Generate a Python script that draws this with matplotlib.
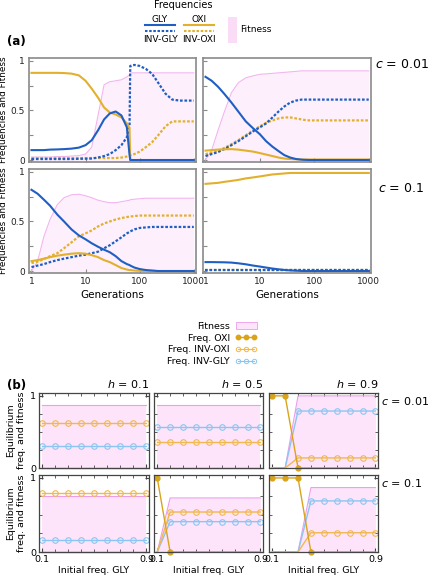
import matplotlib
matplotlib.use("Agg")
import matplotlib.pyplot as plt
from matplotlib.lines import Line2D
from matplotlib.patches import Patch, Rectangle
from matplotlib.ticker import FixedLocator, NullLocator

plt.rcParams['font.family'] = 'DejaVu Sans'
plt.rcParams['mathtext.fontset'] = 'dejavusans'

# ---------------- (a) trajectories over generations ----------------
gens = [1, 1.3, 1.7, 2.2, 3, 4, 5.5, 7.5, 10, 13, 17, 22, 28, 36, 46, 58, 65, 67,
        80, 100, 130, 170, 220, 300, 400, 550, 750, 1000]

# c = 0.01, left
tl_gly = [0.10, 0.10, 0.10, 0.105, 0.107, 0.11, 0.115, 0.125, 0.15, 0.20, 0.30, 0.41, 0.47, 0.49,
          0.45, 0.33, 0.05, 0.0, 0.0, 0.0, 0.0, 0.0, 0.0, 0.0, 0.0, 0.0, 0.0, 0.0]
tl_oxi = [0.88, 0.88, 0.88, 0.88, 0.88, 0.878, 0.872, 0.855, 0.80, 0.72, 0.63, 0.53, 0.48, 0.46,
          0.43, 0.37, 0.32, 0.0, 0.0, 0.0, 0.0, 0.0, 0.0, 0.0, 0.0, 0.0, 0.0, 0.0]
tl_inv_gly = [0.01, 0.01, 0.01, 0.01, 0.01, 0.01, 0.01, 0.012, 0.013, 0.015, 0.025, 0.04, 0.06, 0.10,
              0.15, 0.23, 0.35, 0.95, 0.96, 0.95, 0.92, 0.87, 0.78, 0.67, 0.61, 0.60, 0.60, 0.60]
tl_inv_oxi = [0.02, 0.02, 0.02, 0.02, 0.02, 0.02, 0.02, 0.02, 0.02, 0.02, 0.02, 0.02, 0.02, 0.02,
              0.025, 0.035, 0.04, 0.045, 0.06, 0.085, 0.13, 0.18, 0.25, 0.34, 0.39, 0.39, 0.39, 0.39]
tl_fit = [0.03, 0.03, 0.03, 0.03, 0.035, 0.035, 0.04, 0.045, 0.06, 0.13, 0.45, 0.76, 0.79, 0.80,
          0.81, 0.84, 0.86, 0.88, 0.88, 0.88, 0.88, 0.88, 0.88, 0.88, 0.88, 0.88, 0.88, 0.88]

# c = 0.01, right
tr_gly = [0.84, 0.80, 0.74, 0.67, 0.58, 0.49, 0.39, 0.32, 0.26, 0.19, 0.135, 0.09, 0.05, 0.025,
          0.01, 0.004, 0.002, 0.002, 0.0, 0.0, 0.0, 0.0, 0.0, 0.0, 0.0, 0.0, 0.0, 0.0]
tr_oxi = [0.095, 0.10, 0.105, 0.108, 0.11, 0.105, 0.095, 0.085, 0.07, 0.055, 0.04, 0.025, 0.015, 0.01,
          0.007, 0.005, 0.005, 0.005, 0.005, 0.005, 0.005, 0.005, 0.005, 0.005, 0.005, 0.005, 0.005, 0.005]
tr_inv_gly = [0.04, 0.06, 0.08, 0.11, 0.15, 0.19, 0.24, 0.29, 0.33, 0.37, 0.43, 0.49, 0.54, 0.58,
              0.60, 0.61, 0.61, 0.61, 0.61, 0.61, 0.61, 0.61, 0.61, 0.61, 0.61, 0.61, 0.61, 0.61]
tr_inv_oxi = [0.06, 0.075, 0.095, 0.12, 0.16, 0.20, 0.25, 0.30, 0.34, 0.375, 0.40, 0.42, 0.43, 0.43,
              0.42, 0.41, 0.405, 0.405, 0.40, 0.40, 0.40, 0.40, 0.40, 0.40, 0.40, 0.40, 0.40, 0.40]
tr_fit = [0.0, 0.1, 0.3, 0.48, 0.68, 0.78, 0.83, 0.85, 0.865, 0.87, 0.875, 0.88, 0.885, 0.89,
          0.895, 0.90, 0.90, 0.90, 0.90, 0.90, 0.90, 0.90, 0.90, 0.90, 0.90, 0.90, 0.90, 0.90]

# c = 0.1, left
bl_gly = [0.82, 0.78, 0.72, 0.66, 0.57, 0.50, 0.42, 0.36, 0.32, 0.28, 0.245, 0.215, 0.19, 0.15,
          0.10, 0.07, 0.06, 0.055, 0.035, 0.02, 0.01, 0.005, 0.0, 0.0, 0.0, 0.0, 0.0, 0.0]
bl_oxi = [0.10, 0.11, 0.125, 0.14, 0.155, 0.165, 0.175, 0.18, 0.175, 0.16, 0.14, 0.11, 0.09, 0.06,
          0.03, 0.015, 0.01, 0.01, 0.005, 0.002, 0.0, 0.0, 0.0, 0.0, 0.0, 0.0, 0.0, 0.0]
bl_inv_gly = [0.04, 0.055, 0.07, 0.09, 0.11, 0.125, 0.14, 0.155, 0.165, 0.18, 0.195, 0.23, 0.26, 0.30,
              0.34, 0.38, 0.395, 0.40, 0.42, 0.435, 0.44, 0.445, 0.445, 0.445, 0.445, 0.445, 0.445, 0.445]
bl_inv_oxi = [0.08, 0.095, 0.12, 0.15, 0.18, 0.23, 0.29, 0.35, 0.38, 0.41, 0.45, 0.48, 0.50, 0.52,
              0.535, 0.545, 0.55, 0.55, 0.555, 0.56, 0.56, 0.56, 0.56, 0.56, 0.56, 0.56, 0.56, 0.56]
bl_fit = [0.0, 0.1, 0.35, 0.52, 0.67, 0.74, 0.77, 0.775, 0.76, 0.74, 0.715, 0.70, 0.69, 0.69,
          0.70, 0.71, 0.715, 0.72, 0.725, 0.73, 0.735, 0.735, 0.735, 0.735, 0.735, 0.735, 0.735, 0.735]

# c = 0.1, right (no fitness shading visible)
br_gly = [0.09, 0.09, 0.089, 0.088, 0.085, 0.078, 0.068, 0.055, 0.045, 0.035, 0.025, 0.017, 0.011, 0.006,
          0.003, 0.001, 0.0, 0.0, 0.0, 0.0, 0.0, 0.0, 0.0, 0.0, 0.0, 0.0, 0.0, 0.0]
br_oxi = [0.88, 0.885, 0.89, 0.90, 0.91, 0.92, 0.935, 0.945, 0.955, 0.965, 0.975, 0.98, 0.985, 0.99,
          0.99, 0.99, 0.99, 0.99, 0.99, 0.99, 0.99, 0.99, 0.99, 0.99, 0.99, 0.99, 0.99, 0.99]
br_inv_gly = [0.008, 0.008, 0.008, 0.008, 0.008, 0.008, 0.008, 0.008, 0.008, 0.008, 0.008, 0.008, 0.008, 0.008,
              0.008, 0.008, 0.008, 0.008, 0.008, 0.008, 0.008, 0.008, 0.008, 0.008, 0.008, 0.008, 0.008, 0.008]
br_inv_oxi = [0.012, 0.012, 0.012, 0.012, 0.012, 0.012, 0.012, 0.012, 0.012, 0.012, 0.012, 0.012, 0.012, 0.012,
              0.012, 0.012, 0.012, 0.012, 0.012, 0.012, 0.012, 0.012, 0.012, 0.012, 0.012, 0.012, 0.012, 0.012]

gen_ticks = [1, 10, 100, 1000]
gen_ticklabels = ['1', '10', '100', '1000']

# ---------------- (b) equilibria vs initial GLY frequency ----------------
init_freq = [0.1, 0.2, 0.3, 0.4, 0.5, 0.6, 0.7, 0.8, 0.9]
h_labels = ['0.1', '0.5', '0.9']
c_labels = ['0.01', '0.1']

# c = 0.01
eq_fit_c1_h1 = [0.87, 0.87, 0.87, 0.87, 0.87, 0.87, 0.87, 0.87, 0.87]
eq_oxi_c1_h1 = [0, 0, 0, 0, 0, 0, 0, 0, 0]
eq_ioxi_c1_h1 = [0.63, 0.63, 0.63, 0.63, 0.63, 0.63, 0.63, 0.63, 0.63]
eq_igly_c1_h1 = [0.31, 0.31, 0.31, 0.31, 0.31, 0.31, 0.31, 0.31, 0.31]

eq_fit_c1_h5 = [0.87, 0.87, 0.87, 0.87, 0.87, 0.87, 0.87, 0.87, 0.87]
eq_oxi_c1_h5 = [0, 0, 0, 0, 0, 0, 0, 0, 0]
eq_ioxi_c1_h5 = [0.36, 0.36, 0.36, 0.36, 0.36, 0.36, 0.36, 0.36, 0.36]
eq_igly_c1_h5 = [0.57, 0.57, 0.57, 0.57, 0.57, 0.57, 0.57, 0.57, 0.57]

eq_fit_c1_h9 = [0, 0, 1.0, 1.0, 1.0, 1.0, 1.0, 1.0, 1.0]
eq_oxi_c1_h9 = [1, 1, 0, 0, 0, 0, 0, 0, 0]
eq_ioxi_c1_h9 = [0, 0, 0.14, 0.14, 0.14, 0.14, 0.14, 0.14, 0.14]
eq_igly_c1_h9 = [0, 0, 0.79, 0.79, 0.79, 0.79, 0.79, 0.79, 0.79]

# c = 0.1
eq_fit_c2_h1 = [0.76, 0.76, 0.76, 0.76, 0.76, 0.76, 0.76, 0.76, 0.76]
eq_oxi_c2_h1 = [0, 0, 0, 0, 0, 0, 0, 0, 0]
eq_ioxi_c2_h1 = [0.80, 0.80, 0.80, 0.80, 0.80, 0.80, 0.80, 0.80, 0.80]
eq_igly_c2_h1 = [0.16, 0.16, 0.16, 0.16, 0.16, 0.16, 0.16, 0.16, 0.16]

eq_fit_c2_h5 = [0, 0.73, 0.73, 0.73, 0.73, 0.73, 0.73, 0.73, 0.73]
eq_oxi_c2_h5 = [1, 0, 0, 0, 0, 0, 0, 0, 0]
eq_ioxi_c2_h5 = [0, 0.54, 0.54, 0.54, 0.54, 0.54, 0.54, 0.54, 0.54]
eq_igly_c2_h5 = [0, 0.41, 0.41, 0.41, 0.41, 0.41, 0.41, 0.41, 0.41]

eq_fit_c2_h9 = [0, 0, 0, 0.87, 0.87, 0.87, 0.87, 0.87, 0.87]
eq_oxi_c2_h9 = [1, 1, 1, 0, 0, 0, 0, 0, 0]
eq_ioxi_c2_h9 = [0, 0, 0, 0.26, 0.26, 0.26, 0.26, 0.26, 0.26]
eq_igly_c2_h9 = [0, 0, 0, 0.69, 0.69, 0.69, 0.69, 0.69, 0.69]

# colours
GLY_C = '#1f5fc4'
OXI_C = '#e2b02c'
FIT_LINE = '#f3b5ef'
FIT_FILL = '#fdf0fc'
B_FIT_LINE = '#ee9cec'
B_FIT_FILL = '#fde4fa'
B_OXI = '#d9a41c'
B_IOXI = '#f0b850'
B_IGLY = '#8cc6f0'
FRAME_A = '#8a8a8a'

W, H = 429, 575
fig = plt.figure(figsize=(W / 100, H / 100), dpi=100)


def box(x0, y0, x1, y1):
    # pixel box (top-left origin) -> figure rect
    return [x0 / W, 1 - y1 / H, (x1 - x0) / W, (y1 - y0) / H]


def draw_traj(ax, gly, oxi, inv_gly, inv_oxi, fit=None):
    if fit is not None:
        ax.fill_between(gens, fit, -0.1, color=FIT_FILL, lw=0)
        ax.plot(gens, fit, color=FIT_LINE, lw=0.8)
    dots = (0, (1.2, 0.8))
    ax.plot(gens, inv_oxi, color=OXI_C, lw=1.6, ls=dots)
    ax.plot(gens, inv_gly, color=GLY_C, lw=1.6, ls=dots)
    ax.plot(gens, oxi, color=OXI_C, lw=1.5)
    ax.plot(gens, gly, color=GLY_C, lw=1.5)
    ax.set_xscale('log')
    ax.set_xlim(0.9, 1100)
    ax.set_ylim(-0.02, 1.03)
    ax.xaxis.set_major_locator(FixedLocator(gen_ticks))
    ax.xaxis.set_minor_locator(NullLocator())
    ax.set_yticks([0, 0.25, 0.5, 0.75, 1])
    for s in ax.spines.values():
        s.set_color(FRAME_A)
        s.set_linewidth(1.2)
    ax.tick_params(direction='in', length=3, color=FRAME_A, labelsize=6.5,
                   labelcolor='#222222', pad=3)


a_rects = [box(29, 58, 196, 162), box(203, 58, 371, 162),
           box(29, 169, 196, 273), box(203, 169, 371, 273)]
a_data = [(tl_gly, tl_oxi, tl_inv_gly, tl_inv_oxi, tl_fit),
          (tr_gly, tr_oxi, tr_inv_gly, tr_inv_oxi, tr_fit),
          (bl_gly, bl_oxi, bl_inv_gly, bl_inv_oxi, bl_fit),
          (br_gly, br_oxi, br_inv_gly, br_inv_oxi, None)]
a_axes = []
for i, (rect, d) in enumerate(zip(a_rects, a_data)):
    ax = fig.add_axes(rect)
    draw_traj(ax, *d)
    if i % 2 == 0:
        ax.set_yticklabels(['0', '', '0.5', '', '1'])
        ax.set_ylabel('Frequencies and Fitness', fontsize=6.4, labelpad=2)
    else:
        ax.set_yticklabels([])
    if i < 2:
        ax.set_xticklabels([])
    else:
        ax.set_xticklabels(gen_ticklabels)
        ax.set_xlabel('Generations', fontsize=7.5, labelpad=3)
    a_axes.append(ax)

fig.text(375 / W, 1 - 64 / H, r'$c$ = 0.01', fontsize=9, va='center', ha='left')
fig.text(378 / W, 1 - 189 / H, r'$c$ = 0.1', fontsize=9, va='center', ha='left')
fig.text(7 / W, 1 - 41 / H, '(a)', fontsize=8.5, fontweight='bold', va='center')

# legend for (a), built by hand
fig.text(183 / W, 1 - 5 / H, 'Frequencies', fontsize=7, ha='center', va='center')
for xc, col, top, bottom in [(160, GLY_C, 'GLY', 'INV-GLY'), (199, OXI_C, 'OXI', 'INV-OXI')]:
    fig.add_artist(Line2D([(xc - 15) / W, (xc + 15) / W], [1 - 25 / H, 1 - 25 / H],
                          color=col, lw=1.5))
    fig.add_artist(Line2D([(xc - 15) / W, (xc + 15) / W], [1 - 31 / H, 1 - 31 / H],
                          color=col, lw=1.5, ls=(0, (1.2, 0.8))))
    fig.text(xc / W, 1 - 19 / H, top, fontsize=6.5, ha='center', va='center')
    fig.text(xc / W, 1 - 39 / H, bottom, fontsize=6.5, ha='center', va='center')
fig.add_artist(Rectangle((228 / W, 1 - 43 / H), 9 / W, 26 / H, facecolor='#fbdcf7',
                         edgecolor='none', transform=fig.transFigure))
fig.text(240 / W, 1 - 29 / H, 'Fitness', fontsize=6.5, ha='left', va='center')


# ---------------- (b) ----------------
def nonzero(vals):
    return [i for i, v in enumerate(vals) if v > 0]


def with_drop(vals):
    return [i for i, v in enumerate(vals) if v > 0 or (i > 0 and vals[i - 1] > 0)]


def draw_eq(ax, fit, oxi, ioxi, igly):
    ax.fill_between(init_freq, fit, color=B_FIT_FILL, lw=0)
    ax.plot(init_freq, fit, color=B_FIT_LINE, lw=0.8)
    ax.plot(init_freq, igly, color=B_IGLY, lw=1.0, marker='o', ms=4, mfc='none',
            mew=0.8, markevery=nonzero(igly), clip_on=False)
    ax.plot(init_freq, ioxi, color=B_IOXI, lw=1.0, marker='o', ms=4, mfc='none',
            mew=0.8, markevery=nonzero(ioxi), clip_on=False)
    ax.plot(init_freq, oxi, color=B_OXI, lw=1.0, marker='o', ms=3.5,
            markevery=with_drop(oxi), clip_on=False)
    ax.set_xlim(0.075, 0.92)
    ax.set_ylim(0, 1.04)
    ax.set_xticks([0.1, 0.9])
    ax.set_xticks([0.2, 0.3, 0.4, 0.5, 0.6, 0.7, 0.8], minor=True)
    ax.set_yticks([0, 1])
    ax.set_yticks([0.25, 0.5, 0.75], minor=True)
    for s in ax.spines.values():
        s.set_color('#444444')
        s.set_linewidth(0.9)
        s.set_zorder(3)
    ax.tick_params(which='both', direction='in', top=True, right=True,
                   color='#444444', labelsize=6.8, pad=2)
    ax.tick_params(which='major', length=3)
    ax.tick_params(which='minor', length=2)


b_cols = [(39, 149), (154, 263), (269, 378)]
b_rows = [(393, 468), (475, 552)]
b_data = [[(eq_fit_c1_h1, eq_oxi_c1_h1, eq_ioxi_c1_h1, eq_igly_c1_h1),
           (eq_fit_c1_h5, eq_oxi_c1_h5, eq_ioxi_c1_h5, eq_igly_c1_h5),
           (eq_fit_c1_h9, eq_oxi_c1_h9, eq_ioxi_c1_h9, eq_igly_c1_h9)],
          [(eq_fit_c2_h1, eq_oxi_c2_h1, eq_ioxi_c2_h1, eq_igly_c2_h1),
           (eq_fit_c2_h5, eq_oxi_c2_h5, eq_ioxi_c2_h5, eq_igly_c2_h5),
           (eq_fit_c2_h9, eq_oxi_c2_h9, eq_ioxi_c2_h9, eq_igly_c2_h9)]]

for r, (y0, y1) in enumerate(b_rows):
    for c, (x0, x1) in enumerate(b_cols):
        ax = fig.add_axes(box(x0, y0, x1, y1))
        draw_eq(ax, *b_data[r][c])
        if c == 0:
            ax.set_yticklabels(['0', '1'])
            ax.set_ylabel('Equilibrium\nfreq. and fitness', fontsize=6.8, labelpad=3,
                          linespacing=1.3)
        else:
            ax.set_yticklabels([])
        if r == 1:
            ax.set_xticklabels(['0.1', '0.9'])
            ax.set_xlabel('Initial freq. GLY', fontsize=6.8, labelpad=1.5)
        else:
            ax.set_xticklabels([])
        if r == 0:
            ax.text(1.0, 1.04, r'$h$ = ' + h_labels[c], transform=ax.transAxes,
                    ha='right', va='bottom', fontsize=8)
    fig.text(381 / W, 1 - (y0 + 8) / H, r'$c$ = ' + c_labels[r], fontsize=8,
             ha='left', va='center')

fig.text(7 / W, 1 - 385 / H, '(b)', fontsize=8.5, fontweight='bold', va='center')

b_handles = [Patch(facecolor=B_FIT_FILL, edgecolor=B_FIT_LINE, lw=0.6),
             Line2D([], [], color=B_OXI, lw=1.0, marker='o', ms=3.2),
             Line2D([], [], color=B_IOXI, lw=0.8, marker='o', ms=3.2, mfc='none', mew=0.7),
             Line2D([], [], color=B_IGLY, lw=0.8, marker='o', ms=3.2, mfc='none', mew=0.7)]
b_names = ['Fitness', 'Freq. OXI', 'Freq. INV-OXI', 'Freq. INV-GLY']
fig.legend(b_handles, b_names, loc='upper right', bbox_to_anchor=(262 / W, 1 - 317 / H),
           frameon=False, markerfirst=False, numpoints=3, fontsize=6.8,
           handlelength=2.3, handletextpad=0.6, labelspacing=0.3, borderpad=0)

fig.savefig('out.png', dpi=100)
plt.close()
